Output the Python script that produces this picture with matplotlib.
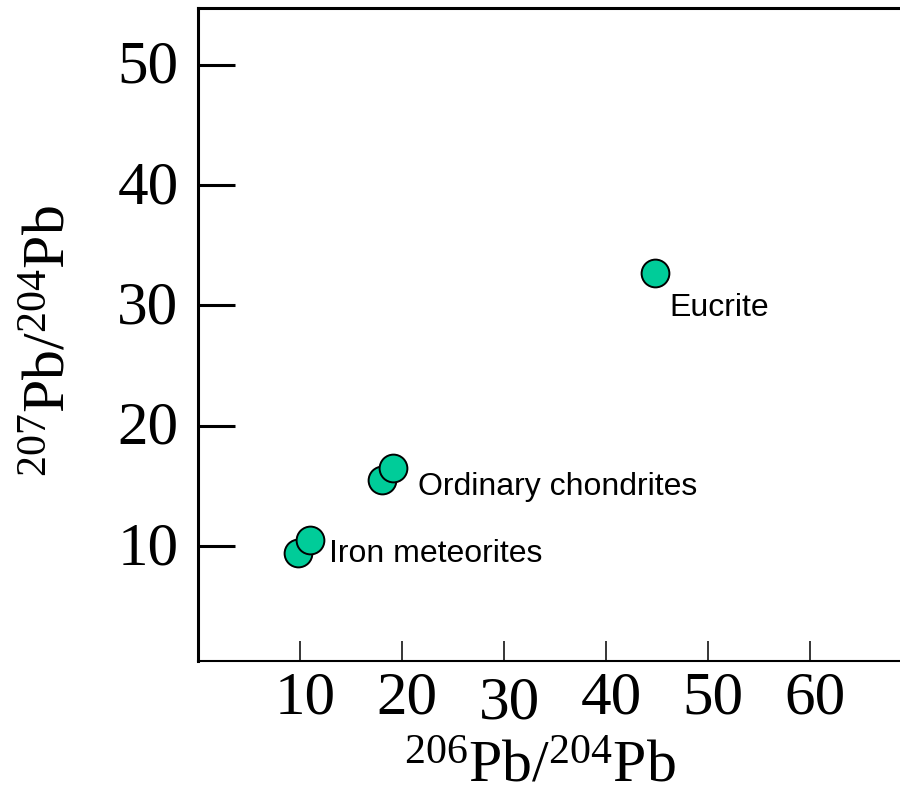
import matplotlib
matplotlib.use("Agg")
import matplotlib.pyplot as plt
import matplotlib.transforms as mtransforms

# Pb isotope ratios for meteorite groups
iron_x = [9.8, 11.0]
iron_y = [9.4, 10.5]
chondrite_x = [18.0, 19.15]
chondrite_y = [15.5, 16.5]
eucrite_x = [44.8]
eucrite_y = [32.7]

labels = ["Iron meteorites", "Ordinary chondrites", "Eucrite"]
x_ticks = [10, 20, 30, 40, 50, 60]
y_ticks = [10, 20, 30, 40, 50]

plt.rcParams["mathtext.fontset"] = "custom"
plt.rcParams["mathtext.rm"] = "Liberation Serif"
plt.rcParams["mathtext.it"] = "Liberation Serif:italic"

fig = plt.figure(figsize=(9, 7.96), dpi=100)
ax = fig.add_axes([0.22, 0.1696, 0.78, 0.8204])

fill = "#00cc99"
for xs, ys in [(iron_x, iron_y), (chondrite_x, chondrite_y), (eucrite_x, eucrite_y)]:
    ax.plot(xs, ys, "o", ms=20, mfc=fill, mec="black", mew=1.4, ls="none")

label_pos = [(12.8, 9.35), (21.6, 14.9), (46.2, 29.75)]
for txt, (lx, ly) in zip(labels, label_pos):
    ax.text(lx, ly, txt, ha="left", va="center", fontsize=23,
            family="Liberation Sans")

ax.set_xlim(0, 68.8)
ax.set_ylim(0.45, 54.7)
ax.set_xticks(x_ticks)
ax.set_yticks(y_ticks)

ax.spines["right"].set_visible(False)
ax.spines["top"].set_linewidth(2.2)
ax.spines["left"].set_linewidth(2.2)
ax.spines["bottom"].set_linewidth(1.5)

ax.tick_params(axis="y", direction="in", length=26.5, width=2.2, pad=14,
               labelsize=44)
ax.tick_params(axis="x", direction="in", length=14.5, width=1.1, pad=7,
               labelsize=44)
for lab in ax.get_xticklabels() + ax.get_yticklabels():
    lab.set_family("Liberation Serif")

# nudge the tick labels a little
for lab in ax.get_xticklabels():
    dy = -5 / 100 if lab.get_text() == "30" else 0
    off = mtransforms.ScaledTranslation(5 / 100, dy, fig.dpi_scale_trans)
    lab.set_transform(lab.get_transform() + off)
for lab in ax.get_yticklabels():
    off = mtransforms.ScaledTranslation(0, 3 / 100, fig.dpi_scale_trans)
    lab.set_transform(lab.get_transform() + off)

ax.set_xlabel(r"$^{206}\mathrm{Pb}/^{204}\mathrm{Pb}$", fontsize=43)
ax.set_ylabel(r"$^{207}\mathrm{Pb}/^{204}\mathrm{Pb}$", fontsize=43)
ax.xaxis.set_label_coords(0.487, -0.115)
ax.xaxis.label.set_va("top")
ax.yaxis.set_label_coords(-0.255, 0.49)
ax.yaxis.label.set_va("top")

fig.savefig("out.png", dpi=100)
